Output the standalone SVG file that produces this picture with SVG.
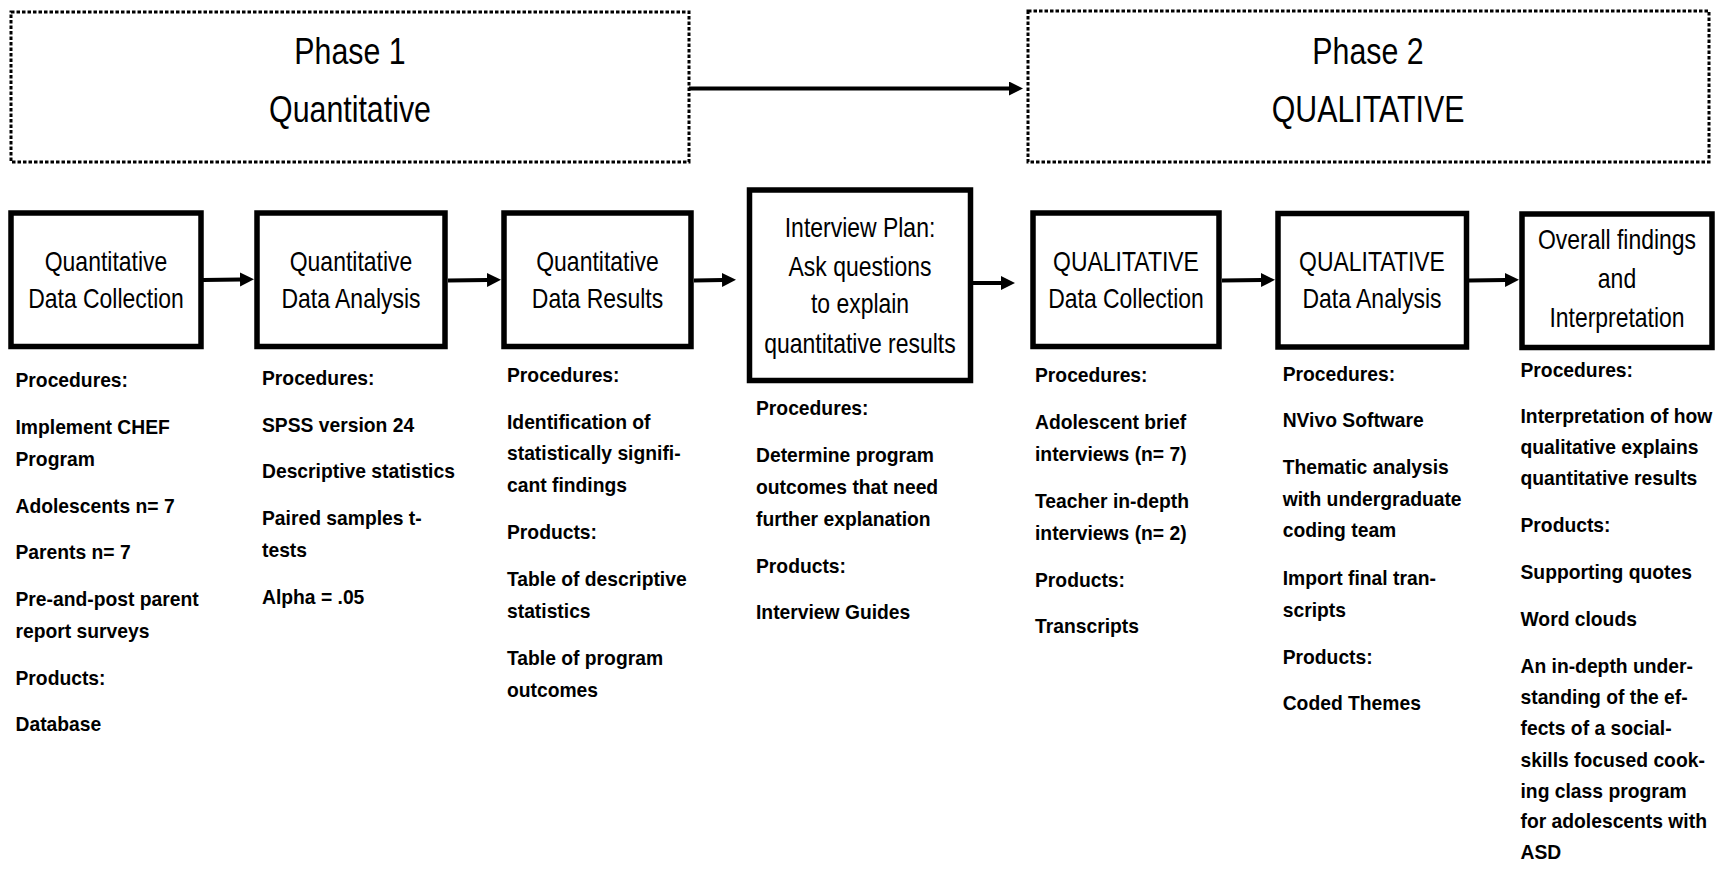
<svg xmlns="http://www.w3.org/2000/svg" width="1723" height="871" viewBox="0 0 1723 871">
<defs>
<style>
.phase{fill:none;stroke:#000;stroke-width:3;stroke-dasharray:3.5 2}
.box{fill:#fff;stroke:#000;stroke-width:5.5}
.ttl{font-family:"Liberation Sans",Arial,sans-serif;font-size:37px;fill:#000;text-anchor:middle}
.bt{font-family:"Liberation Sans",Arial,sans-serif;font-size:28px;fill:#000;text-anchor:middle}
.tx{font-family:"Liberation Sans",Arial,sans-serif;font-weight:bold;font-size:19.3px;fill:#000}
.arr{stroke:#000;stroke-width:4;fill:none;marker-end:url(#ah)}
</style>
<marker id="ah" markerUnits="userSpaceOnUse" markerWidth="16" markerHeight="16" refX="1" refY="7" orient="auto">
<path d="M0,0 L14,7 L0,14 z" fill="#000"/>
</marker>
</defs>
<rect width="1723" height="871" fill="#fff"/>

<g id="phase1">
<rect class="phase" x="11" y="12" width="678" height="150"/>
<text class="ttl" transform="matrix(0.82 0 0 1 350 0)" x="0" y="64">Phase 1</text>
<text class="ttl" transform="matrix(0.82 0 0 1 350 0)" x="0" y="122">Quantitative</text>
</g>
<g id="phase2">
<rect class="phase" x="1028" y="11" width="681" height="151"/>
<text class="ttl" transform="matrix(0.82 0 0 1 1368 0)" x="0" y="64">Phase 2</text>
<text class="ttl" transform="matrix(0.82 0 0 1 1368 0)" x="0" y="122">QUALITATIVE</text>
</g>

<g id="connectors">
<line class="arr" x1="689" y1="88.5" x2="1010" y2="88.5"/>
<line class="arr" x1="203" y1="280" x2="241" y2="279.5"/>
<line class="arr" x1="448" y1="280.5" x2="488" y2="280"/>
<line class="arr" x1="694" y1="280.5" x2="723" y2="280"/>
<line class="arr" x1="973" y1="283" x2="1002" y2="283"/>
<line class="arr" x1="1222" y1="280.5" x2="1262" y2="280"/>
<line class="arr" x1="1469" y1="280.5" x2="1506" y2="280"/>
</g>

<g id="n1">
<rect class="box" x="11" y="213" width="190" height="133.5"/>
<text class="bt" transform="matrix(0.82 0 0 1 106 0)" x="0" y="271">Quantitative</text>
<text class="bt" transform="matrix(0.82 0 0 1 106 0)" x="0" y="308">Data Collection</text>
<text class="tx"><tspan x="15.5" y="387">Procedures:</tspan><tspan x="15.5" y="433.5">Implement CHEF</tspan><tspan x="15.5" y="466">Program</tspan><tspan x="15.5" y="512.5">Adolescents n= 7</tspan><tspan x="15.5" y="559">Parents n= 7</tspan><tspan x="15.5" y="605.5">Pre-and-post parent</tspan><tspan x="15.5" y="638">report surveys</tspan><tspan x="15.5" y="684.5">Products:</tspan><tspan x="15.5" y="731">Database</tspan></text>
</g>

<g id="n2">
<rect class="box" x="257" y="213" width="188" height="133.5"/>
<text class="bt" transform="matrix(0.82 0 0 1 351 0)" x="0" y="271">Quantitative</text>
<text class="bt" transform="matrix(0.82 0 0 1 351 0)" x="0" y="308">Data Analysis</text>
<text class="tx"><tspan x="262" y="385">Procedures:</tspan><tspan x="262" y="431.5">SPSS version 24</tspan><tspan x="262" y="478">Descriptive statistics</tspan><tspan x="262" y="525">Paired samples t-</tspan><tspan x="262" y="556.5">tests</tspan><tspan x="262" y="603.5">Alpha = .05</tspan></text>
</g>

<g id="n3">
<rect class="box" x="504" y="213" width="187" height="133.5"/>
<text class="bt" transform="matrix(0.82 0 0 1 597.5 0)" x="0" y="271">Quantitative</text>
<text class="bt" transform="matrix(0.82 0 0 1 597.5 0)" x="0" y="308">Data Results</text>
<text class="tx"><tspan x="507" y="382">Procedures:</tspan><tspan x="507" y="428.5">Identification of</tspan><tspan x="507" y="460">statistically signifi-</tspan><tspan x="507" y="491.7">cant findings</tspan><tspan x="507" y="539">Products:</tspan><tspan x="507" y="586">Table of descriptive</tspan><tspan x="507" y="617.7">statistics</tspan><tspan x="507" y="665">Table of program</tspan><tspan x="507" y="696.7">outcomes</tspan></text>
</g>

<g id="n4">
<rect class="box" x="749.5" y="190" width="221" height="190.5"/>
<text class="bt" transform="matrix(0.82 0 0 1 860 0)" x="0" y="237">Interview Plan:</text>
<text class="bt" transform="matrix(0.82 0 0 1 860 0)" x="0" y="276">Ask questions</text>
<text class="bt" transform="matrix(0.82 0 0 1 860 0)" x="0" y="313.5">to explain</text>
<text class="bt" transform="matrix(0.82 0 0 1 860 0)" x="0" y="353">quantitative results</text>
<text class="tx"><tspan x="756" y="415">Procedures:</tspan><tspan x="756" y="461.7">Determine program</tspan><tspan x="756" y="494">outcomes that need</tspan><tspan x="756" y="525.5">further explanation</tspan><tspan x="756" y="572.7">Products:</tspan><tspan x="756" y="619.3">Interview Guides</tspan></text>
</g>

<g id="n5">
<rect class="box" x="1033" y="213" width="186" height="133.5"/>
<text class="bt" transform="matrix(0.82 0 0 1 1126 0)" x="0" y="271.5">QUALITATIVE</text>
<text class="bt" transform="matrix(0.82 0 0 1 1126 0)" x="0" y="308.5">Data Collection</text>
<text class="tx"><tspan x="1035" y="382.3">Procedures:</tspan><tspan x="1035" y="429">Adolescent brief</tspan><tspan x="1035" y="460.7">interviews (n= 7)</tspan><tspan x="1035" y="508.3">Teacher in-depth</tspan><tspan x="1035" y="540">interviews (n= 2)</tspan><tspan x="1035" y="586.7">Products:</tspan><tspan x="1035" y="633.3">Transcripts</tspan></text>
</g>

<g id="n6">
<rect class="box" x="1278" y="213.5" width="188.5" height="133.5"/>
<text class="bt" transform="matrix(0.82 0 0 1 1372 0)" x="0" y="271.5">QUALITATIVE</text>
<text class="bt" transform="matrix(0.82 0 0 1 1372 0)" x="0" y="308.5">Data Analysis</text>
<text class="tx"><tspan x="1282.7" y="380.7">Procedures:</tspan><tspan x="1282.7" y="427.3">NVivo Software</tspan><tspan x="1282.7" y="474">Thematic analysis</tspan><tspan x="1282.7" y="505.7">with undergraduate</tspan><tspan x="1282.7" y="537.3">coding team</tspan><tspan x="1282.7" y="585">Import final tran-</tspan><tspan x="1282.7" y="616.7">scripts</tspan><tspan x="1282.7" y="664">Products:</tspan><tspan x="1282.7" y="710">Coded Themes</tspan></text>
</g>

<g id="n7">
<rect class="box" x="1522" y="214" width="190" height="133.5"/>
<text class="bt" transform="matrix(0.82 0 0 1 1617 0)" x="0" y="249.5">Overall findings</text>
<text class="bt" transform="matrix(0.82 0 0 1 1617 0)" x="0" y="288.3">and</text>
<text class="bt" transform="matrix(0.82 0 0 1 1617 0)" x="0" y="326.7">Interpretation</text>
<text class="tx"><tspan x="1520.5" y="376.7">Procedures:</tspan><tspan x="1520.5" y="423.3">Interpretation of how</tspan><tspan x="1520.5" y="454">qualitative explains</tspan><tspan x="1520.5" y="485">quantitative results</tspan><tspan x="1520.5" y="531.7">Products:</tspan><tspan x="1520.5" y="579">Supporting quotes</tspan><tspan x="1520.5" y="626">Word clouds</tspan><tspan x="1520.5" y="672.7">An in-depth under-</tspan><tspan x="1520.5" y="704">standing of the ef-</tspan><tspan x="1520.5" y="735">fects of a social-</tspan><tspan x="1520.5" y="766.7">skills focused cook-</tspan><tspan x="1520.5" y="797.7">ing class program</tspan><tspan x="1520.5" y="828.3">for adolescents with</tspan><tspan x="1520.5" y="859.3">ASD</tspan></text>
</g>
</svg>
